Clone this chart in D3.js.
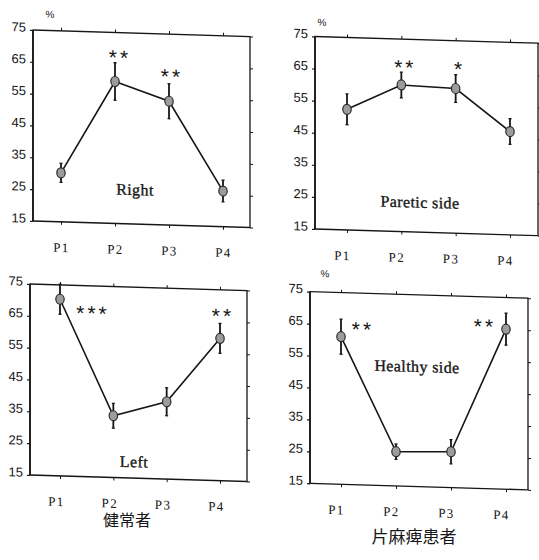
<!DOCTYPE html>
<html>
<head>
<meta charset="utf-8">
<script src="https://cdn.jsdelivr.net/npm/d3@7/dist/d3.min.js"></script>
<style>
  html, body { margin: 0; padding: 0; background: #fff; }
  svg { display: block; }
</style>
</head>
<body>
<svg id="chart" width="539" height="560"></svg>
<script>
// Measurement periods and the shared value axis (%)
const periods = ["P1", "P2", "P3", "P4"];
const yTicks = [15, 25, 35, 45, 55, 65, 75];
const yDomain = [15, 75];

// Healthy subjects (健常者): right and left sides, mean ± SD
const rightMean = [30.4, 59.6, 53.9, 26.2];
const rightSD   = [3.0, 5.9, 5.5, 3.4];
const leftMean  = [70.5, 34.4, 39.3, 59.7];
const leftSD    = [4.7, 3.9, 4.4, 4.7];

// Hemiplegic patients (片麻痺患者): paretic and healthy sides, mean ± SD
const pareticMean = [52.6, 60.7, 60.1, 47.2];
const pareticSD   = [4.8, 4.0, 4.3, 4.0];
const healthyMean = [61.2, 25.7, 26.2, 65.1];
const healthySD   = [5.5, 2.4, 3.8, 5.0];

// Significance marks: period, text, value level
const rightStars   = [["P2", "**", 68.0], ["P3", "**", 62.5]];
const pareticStars = [["P2", "**", 67.0], ["P3", "*", 67.0]];
const leftStars    = [["P1", "***", 67.2], ["P4", "**", 67.6]];
const healthyStars = [["P1", "**", 64.5], ["P4", "**", 66.6]];

const svg = d3.select("#chart");
const skewDeg = Math.atan(0.03) * 180 / Math.PI;

const panels = [
  { mean: rightMean, sd: rightSD, stars: rightStars, title: "Right",
    ox: 33, oy: 30, w: 217, h: 191, xr: [28, 190], tx: 102, ty: 162,
    starDx: [5, 3], pct: [17, -13], labDx: 0 },
  { mean: pareticMean, sd: pareticSD, stars: pareticStars, title: "Paretic side",
    ox: 315, oy: 36.5, w: 223, h: 192.5, xr: [32, 195], tx: 105, ty: 168,
    starDx: [4, 4], pct: [7, -11], labDx: -5 },
  { mean: leftMean, sd: leftSD, stars: leftStars, title: "Left",
    ox: 30, oy: 284, w: 217, h: 191, xr: [30, 190], tx: 104, ty: 180,
    starDx: [33, 3], pct: null, labDx: -4 },
  { mean: healthyMean, sd: healthySD, stars: healthyStars, title: "Healthy side",
    ox: 310, oy: 291.7, w: 218, h: 191.6, xr: [31, 196], tx: 107, ty: 77,
    starDx: [22, -21], pct: [15, -15], labDx: -5 }
];

const ink = "#161616";

panels.forEach(p => {
  const g = svg.append("g")
    .attr("transform", `translate(${p.ox},${p.oy}) skewY(${skewDeg})`);

  const x = d3.scalePoint().domain(periods).range(p.xr);
  const y = d3.scaleLinear().domain(yDomain).range([p.h, 0]);

  // frame
  g.append("rect")
    .attr("x", 0).attr("y", 0).attr("width", p.w).attr("height", p.h)
    .attr("fill", "none").attr("stroke", ink).attr("stroke-width", 1.3);
  g.append("line").attr("x1", 0).attr("x2", 0).attr("y1", 0).attr("y2", p.h)
    .attr("stroke", ink).attr("stroke-width", 1.7);

  // left axis with labels
  const left = g.append("g")
    .call(d3.axisLeft(y).tickValues(yTicks).tickSize(3).tickPadding(4).tickSizeOuter(0));
  left.select(".domain").remove();
  left.selectAll("line").attr("stroke", ink).attr("stroke-width", 1.2);
  left.selectAll("text")
    .attr("dy", "0.1em")
    .attr("fill", ink)
    .style("font-family", "'Liberation Sans Narrow', 'Liberation Sans', Arial, sans-serif")
    .style("font-size", "13px");

  // right border ticks
  const right = g.append("g").attr("transform", `translate(${p.w},0)`)
    .call(d3.axisRight(y).tickValues(yTicks).tickSize(3).tickFormat(""));
  right.select(".domain").remove();
  right.selectAll("line").attr("stroke", ink).attr("stroke-width", 1);

  // top border ticks
  const top = g.append("g")
    .call(d3.axisTop(x).tickSize(3).tickFormat(""));
  top.select(".domain").remove();
  top.selectAll("line").attr("stroke", ink).attr("stroke-width", 1);

  // bottom axis: period labels
  const bottom = g.append("g").attr("transform", `translate(0,${p.h})`)
    .call(d3.axisBottom(x).tickSize(3).tickPadding(18));
  bottom.select(".domain").remove();
  bottom.selectAll("line").attr("stroke", ink).attr("stroke-width", 1);
  bottom.selectAll("text")
    .attr("dx", p.labDx)
    .attr("fill", ink)
    .style("font-family", "'Liberation Serif', 'Times New Roman', serif")
    .style("font-size", "13px")
    .style("letter-spacing", "1.5px");

  // % unit
  if (p.pct) {
    g.append("text")
      .attr("x", p.pct[0]).attr("y", p.pct[1])
      .attr("text-anchor", "middle")
      .attr("fill", ink)
      .style("font-family", "'Liberation Sans Narrow', 'Liberation Sans', sans-serif")
      .style("font-size", "10px")
      .text("%");
  }

  const data = periods.map((k, i) => ({ k, m: p.mean[i], s: p.sd[i] }));

  // connecting line
  g.append("path")
    .datum(data)
    .attr("fill", "none")
    .attr("stroke", ink)
    .attr("stroke-width", 1.6)
    .attr("d", d3.line().x(d => x(d.k)).y(d => y(d.m)));

  // error bars
  const eb = g.append("g").selectAll("g").data(data).join("g");
  eb.append("line")
    .attr("x1", d => x(d.k)).attr("x2", d => x(d.k))
    .attr("y1", d => y(d.m + d.s)).attr("y2", d => y(d.m - d.s))
    .attr("stroke", ink).attr("stroke-width", 1.8);
  eb.append("line")
    .attr("x1", d => x(d.k) - 1.5).attr("x2", d => x(d.k) + 1.5)
    .attr("y1", d => y(d.m + d.s)).attr("y2", d => y(d.m + d.s))
    .attr("stroke", ink).attr("stroke-width", 1.3);
  eb.append("line")
    .attr("x1", d => x(d.k) - 1.5).attr("x2", d => x(d.k) + 1.5)
    .attr("y1", d => y(d.m - d.s)).attr("y2", d => y(d.m - d.s))
    .attr("stroke", ink).attr("stroke-width", 1.3);

  // markers
  g.append("g").selectAll("ellipse").data(data).join("ellipse")
    .attr("cx", d => x(d.k)).attr("cy", d => y(d.m))
    .attr("rx", 4.2).attr("ry", 5)
    .attr("fill", "#9c9c9c")
    .attr("stroke", "#2a2a2a").attr("stroke-width", 1.2);

  // significance marks
  g.append("g").selectAll("text").data(p.stars).join("text")
    .attr("x", (d, i) => x(d[0]) + p.starDx[i])
    .attr("y", d => y(d[2]) + 10)
    .attr("text-anchor", "middle")
    .attr("fill", ink)
    .style("font-family", "'Liberation Sans', Arial, sans-serif")
    .style("font-size", "21px")
    .style("letter-spacing", "3px")
    .text(d => d[1]);

  // panel title
  g.append("text")
    .attr("x", p.tx).attr("y", p.ty)
    .attr("text-anchor", "middle")
    .attr("fill", ink)
    .attr("stroke", ink)
    .attr("stroke-width", 0.35)
    .style("font-family", "'Liberation Serif', 'Times New Roman', serif")
    .style("font-size", "16px")
    .style("letter-spacing", "0.4px")
    .text(p.title);
});

// group captions
svg.append("text")
  .attr("x", 127).attr("y", 526)
  .attr("text-anchor", "middle")
  .attr("fill", ink)
  .style("font-family", "'Noto Sans CJK JP', sans-serif")
  .style("font-size", "16px")
  .text("健常者");
svg.append("text")
  .attr("x", 414).attr("y", 543)
  .attr("text-anchor", "middle")
  .attr("fill", ink)
  .style("font-family", "'Noto Sans CJK JP', sans-serif")
  .style("font-size", "17px")
  .text("片麻痺患者");
</script>
</body>
</html>
